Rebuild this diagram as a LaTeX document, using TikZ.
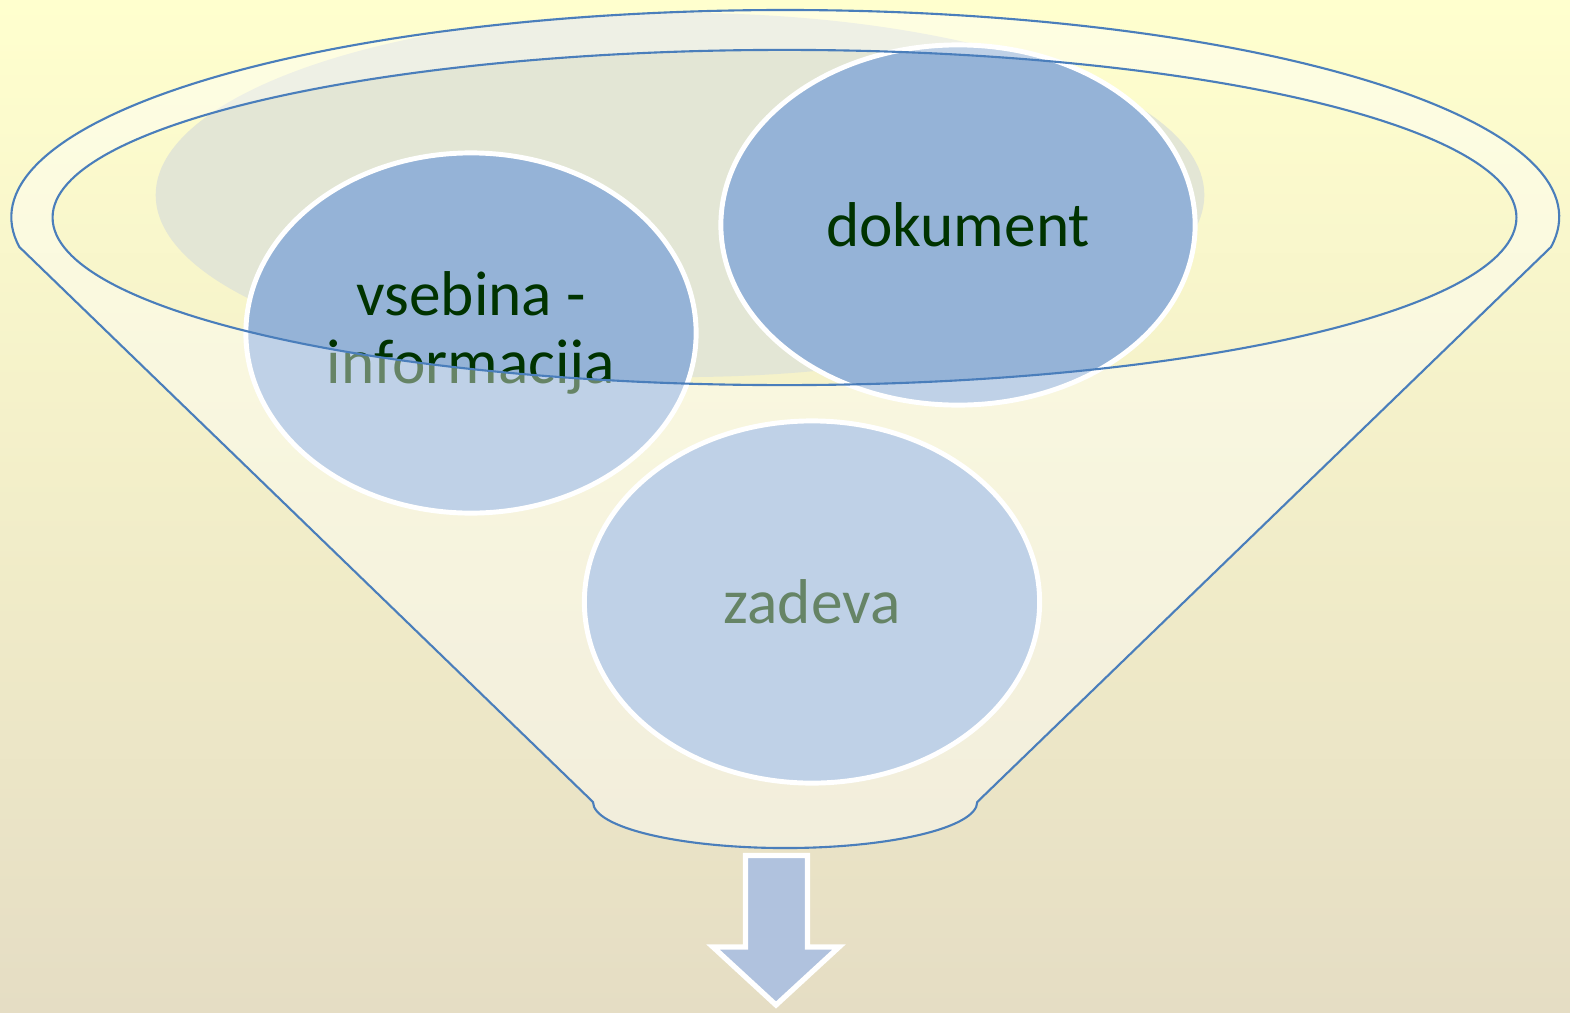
\documentclass[tikz,border=0pt]{standalone}
\usepackage{fontspec}
\setmainfont{Carlito}
\usetikzlibrary{shapes.geometric}
\definecolor{bgtop}{RGB}{255,255,206}
\definecolor{bgbot}{RGB}{229,221,196}
\definecolor{shadowgray}{RGB}{227,230,213}
\definecolor{bubblue}{RGB}{149,179,215}
\definecolor{txtgreen}{RGB}{0,51,0}
\definecolor{rimblue}{RGB}{74,126,187}
\definecolor{arrblue}{RGB}{176,194,222}

\begin{document}
\begin{tikzpicture}[x=0.01cm,y=-0.01cm,
	bub/.style={ellipse,draw=white,line width=1.4pt,fill=bubblue,text=txtgreen,
		font=\fontsize{18}{19.2}\selectfont,align=center,inner sep=0pt},
	rim/.style={draw=rimblue,line width=0.6pt}]

\useasboundingbox(0,0)rectangle(1570,1012);
\shade[top color=bgtop,bottom color=bgbot](0,0)rectangle(1570,1012);

% shadow behind the items
\fill[shadowgray](680,195)ellipse[x radius=5.24cm,y radius=1.82cm];

\node[bub,minimum width=4.5cm,minimum height=3.6cm](vseb)at(471,333){vsebina -\\informacija};
\node[bub,minimum width=4.74cm,minimum height=3.6cm](dok)at(958,225){dokument};
\node[bub,minimum width=4.55cm,minimum height=3.62cm](zad)at(812,602){zadeva};

% funnel body
\fill[white,fill opacity=0.4,even odd rule]
	(1551,247)arc[start angle=-8.3,end angle=188.3,x radius=7.735cm,y radius=2.07cm]
	--(593,802)arc[start angle=180,end angle=360,x radius=1.92cm,y radius=0.46cm]
	--cycle
	(784.5,217.5)ellipse[x radius=7.315cm,y radius=1.675cm];
\draw[rim](1551,247)arc[start angle=-8.3,end angle=188.3,x radius=7.735cm,y radius=2.07cm]
	--(593,802)arc[start angle=180,end angle=360,x radius=1.92cm,y radius=0.46cm]
	--cycle;
\draw[rim](784.5,217.5)ellipse[x radius=7.315cm,y radius=1.675cm];

% output arrow
\draw[fill=arrblue,draw=white,line width=1.5pt,line join=miter]
	(745.5,855.5)--(807.5,855.5)--(807.5,947)--(839,947)--(776,1005)
	--(713,947)--(745.5,947)--cycle;

\end{tikzpicture}
\end{document}
